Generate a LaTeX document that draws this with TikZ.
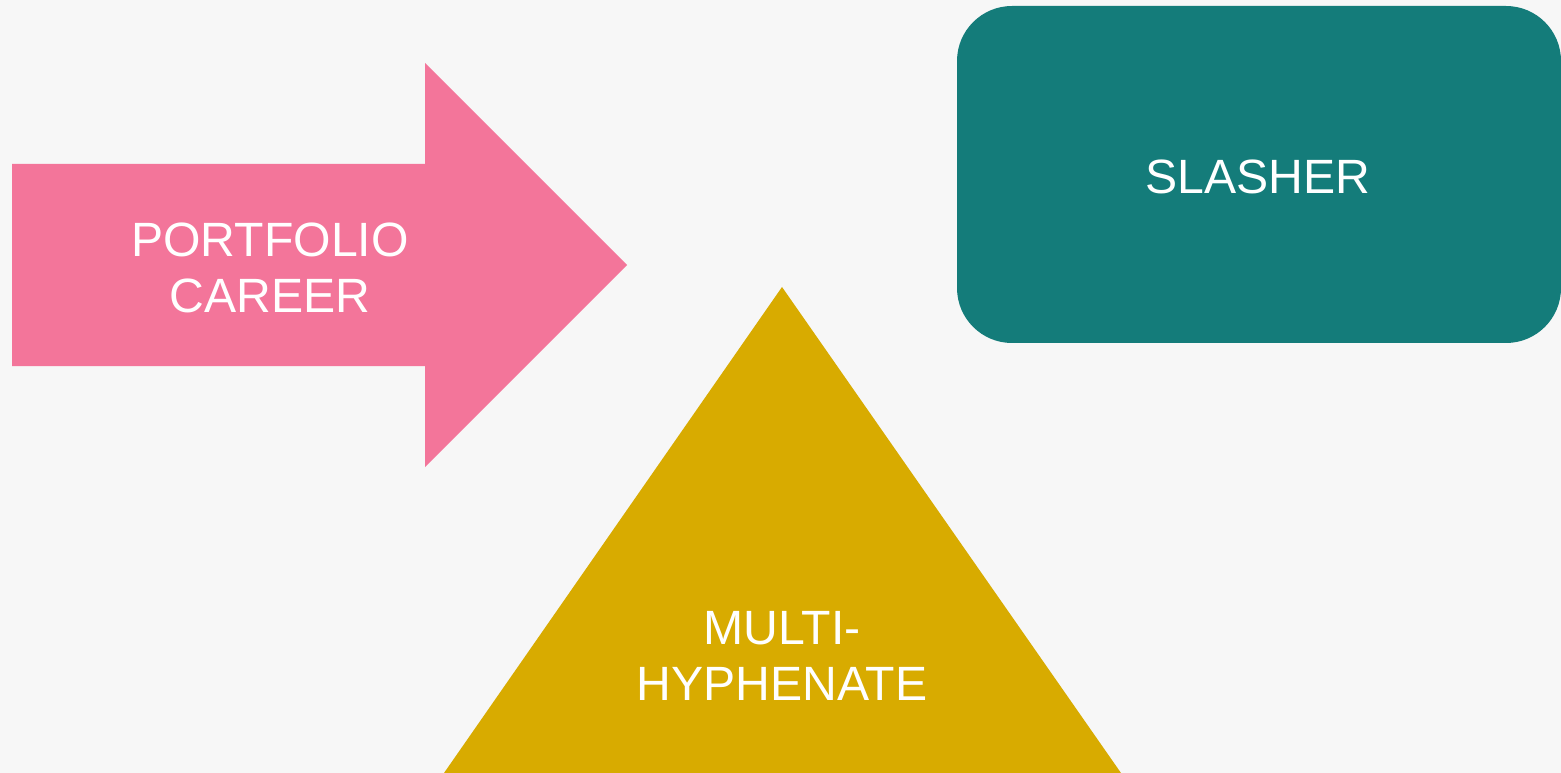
\documentclass[tikz,border=0pt]{standalone}
\usepackage{fontspec}
\setmainfont{Liberation Sans}
\usetikzlibrary{positioning}
\definecolor{bgColor}{HTML}{F7F7F7}
\definecolor{arrowColor}{HTML}{F3759A}
\definecolor{slashColor}{HTML}{147C7A}
\definecolor{hyphColor}{HTML}{D8AB00}

\begin{document}
\begin{tikzpicture}[x=0.02cm, y=-0.02cm]
			\tikzset{rotulo/.style={text=white, align=center, inner sep=0pt,
				font=\fontsize{27.4}{31.9}\selectfont}}
			% fundo
			\fill[bgColor] (0,0) rectangle (1561,773);
			\useasboundingbox (0,0) rectangle (1561,773);
			% seta
			\fill[arrowColor] (12,164) -- (425,164) -- (425,63) -- (627,265)
				-- (425,467) -- (425,366) -- (12,366) -- cycle;
			\node[rotulo] (portfolio) at (270,268) {PORTFOLIO\\CAREER};
			% caixa arredondada
			\fill[slashColor, rounded corners=1.1cm] (957,6) rectangle (1561,343);
			\node[rotulo] (slasher) at (1258,176.5) {SLASHER};
			% triangulo
			\fill[hyphColor] (782,287) -- (1121,773) -- (444,773) -- cycle;
			\node[rotulo] (multi) at (782,655.5) {MULTI-\\HYPHENATE};
		\end{tikzpicture}
\end{document}
